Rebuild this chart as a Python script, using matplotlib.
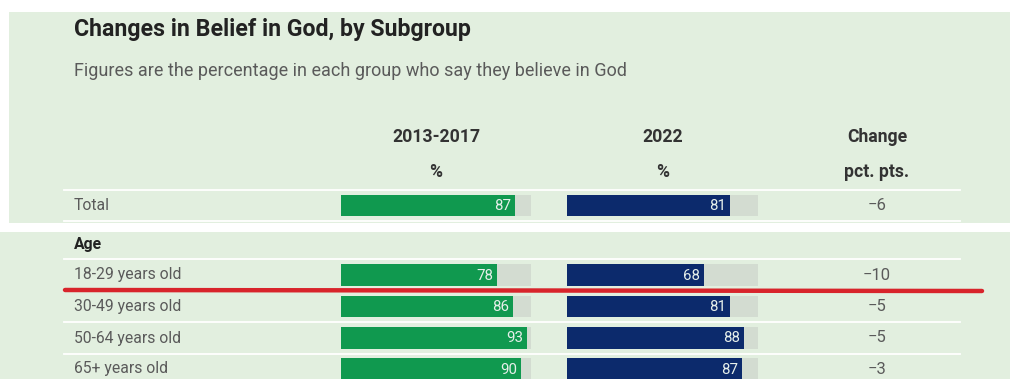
import matplotlib
matplotlib.use("Agg")
import matplotlib.pyplot as plt
from matplotlib.patches import Rectangle

# Canvas in pixel units, (0, 0) top-left
DPI = 100
W, H = 1010, 379

BG = "#E2EFDF"
WHITE = "#FFFFFF"
TRACK = "#D3DCD1"
GREEN = "#10994F"
NAVY = "#0C2A6C"
DARK = "#222222"
GREY = "#5A5A5A"
RED = "#D8242B"
FONT = "Roboto"

# Data
groups = ["Total", "18-29 years old", "30-49 years old", "50-64 years old", "65+ years old"]
belief_2013_2017 = [87, 78, 86, 93, 90]
belief_2022 = [81, 68, 81, 88, 87]
change = [-6, -10, -5, -5, -3]
col_headers = ["2013-2017", "2022", "Change"]
col_units = ["%", "%", "pct. pts."]
section_label = "Age"
TRACK_MAX = 95

# Layout
ROW_Y = [205.5, 275, 306.5, 338, 369]
AGE_Y = 244
BAR_H = 21.5
LEFT = 74
COLS = [(341, 531), (567, 758)]
CHANGE_X = 877
RULES_Y = [190, 221, 259, 290.5, 322, 353.5]

fig = plt.figure(figsize=(W / DPI, H / DPI), dpi=DPI)
fig.patch.set_facecolor(WHITE)
ax = fig.add_axes([0, 0, 1, 1])
ax.set_xlim(0, W)
ax.set_ylim(H, 0)
ax.axis("off")

# panel backgrounds: upper block and the section block below the gap
ax.add_patch(Rectangle((9, 12), W - 9, 211, facecolor=BG, edgecolor="none", zorder=0))
ax.add_patch(Rectangle((0, 231.5), W, H - 231.5, facecolor=BG, edgecolor="none", zorder=0))

for y in RULES_Y:
    ax.plot([64, 960], [y, y], color=WHITE, lw=1.3, zorder=1)

ax.text(LEFT, 29.5, "Changes in Belief in God, by Subgroup", fontsize=16.7,
        fontweight="bold", color=DARK, va="center", family=FONT)
ax.text(LEFT, 71.5, "Figures are the percentage in each group who say they believe in God",
        fontsize=13, color=GREY, va="center", family=FONT)

centers = [(a + b) / 2 for a, b in COLS] + [CHANGE_X]
for cx, head, unit in zip(centers, col_headers, col_units):
    ax.text(cx, 137, head, fontsize=12.7, fontweight="bold", color="#333333",
            ha="center", va="center", family=FONT)
    ax.text(cx, 172, unit, fontsize=12.7, fontweight="bold", color="#333333",
            ha="center", va="center", family=FONT)

for y, name in zip(ROW_Y, groups):
    ax.text(LEFT, y, name, fontsize=11.3, color=GREY, va="center", family=FONT)
ax.text(LEFT, AGE_Y, section_label, fontsize=11.3, fontweight="bold", color=DARK,
        va="center", family=FONT)

for y, c in zip(ROW_Y, change):
    ax.text(CHANGE_X, y, f"\u2212{abs(c)}", fontsize=12, color=GREY,
            ha="center", va="center", family=FONT)

# bar columns share the pixel y-axis, x runs in percent
for (x0, x1), vals, color in zip(COLS, [belief_2013_2017, belief_2022], [GREEN, NAVY]):
    bax = fig.add_axes([x0 / W, 0, (x1 - x0) / W, 1])
    bax.set_xlim(0, TRACK_MAX)
    bax.set_ylim(H, 0)
    bax.axis("off")
    bax.patch.set_alpha(0)
    bax.barh(ROW_Y, [TRACK_MAX] * len(vals), height=BAR_H, color=TRACK, zorder=1)
    bax.barh(ROW_Y, vals, height=BAR_H, color=color, zorder=2)
    for y, v in zip(ROW_Y, vals):
        bax.text(v - 2, y + 0.5, str(v), fontsize=10.8, color="#E6EFEA",
                 ha="right", va="center", family=FONT, zorder=3)

# red marker stroke across the table
line_ax = fig.add_axes([0, 0, 1, 1])
line_ax.set_xlim(0, W)
line_ax.set_ylim(H, 0)
line_ax.axis("off")
line_ax.patch.set_alpha(0)
line_ax.plot([65, 982], [290, 291], color=RED, lw=3.2, solid_capstyle="round", zorder=5)

fig.savefig("out.png", dpi=DPI, facecolor=WHITE)
